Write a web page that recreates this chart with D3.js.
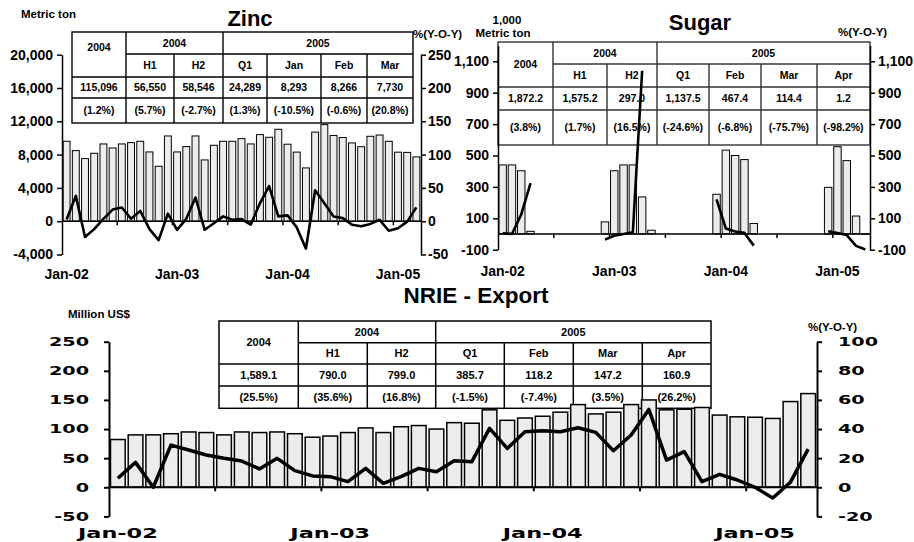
<!DOCTYPE html>
<html>
<head>
<meta charset="utf-8">
<script src="https://cdn.jsdelivr.net/npm/d3@7"></script>
<style>
  body { margin: 0; background: #fff; }
  svg { display: block; font-family: "Liberation Sans", Arial, sans-serif; font-weight: bold; }
</style>
</head>
<body>
<div id="chart"></div>
<script>
// Categories
const months = d3.timeMonth.range(new Date(2002, 0, 1), new Date(2005, 4, 1)).map(d3.timeFormat("%b-%y"))
const zincMonths = months.slice(0, 39)
const yearLabels = ["Jan-02", "Jan-03", "Jan-04", "Jan-05"]

// Series
const zincTons = [9600, 8480, 7520, 8160, 9280, 8800, 9280, 9440, 9600, 8320, 6600, 10240,
  8320, 8960, 10240, 7360, 9120, 9600, 9600, 9920, 9280, 10400, 10080, 11040,
  9250, 8300, 6400, 10700, 11600, 10300, 10050, 9400, 8950, 10200, 10350, 9596,
  8293, 8266, 7730]
const zincYoY = [2.6, 38, -23.7, -11.9, 3.6, 17.5, 20.6, 3.6, 15.5, -11.9, -28.4, 11.3,
  -12.9, 3.6, 35.6, -12.9, -3.1, 7.2, 2.1, 3.1, -5.2, 26.8, 52.6, 7.2,
  8.8, -9.3, -41.2, 46.4, 26.8, 7.2, 4.6, -5.2, -7.7, -4.1, 2.1, -14.4,
  -10.5, -0.6, 20.8]

const sugarTons = [440, 440, 403, 17, null, null, null, null, null, null, null, 77,
  403, 440, 440, 236, 24, null, null, null, null, null, null, 253,
  534, 500, 474, 67.2, null, null, null, null, null, null, null, 297,
  556, 467.4, 114.4, 1.2]
const sugarYoY = [5, 0, 125, 324, null, null, null, null, null, null, null, -36,
  -11, 0, 11, 1040, null, null, null, null, null, null, null, 221,
  35, 16, 7, -74, null, null, null, null, null, null, null, 17,
  6, -6.8, -75.7, -98.2]

const nrieExport = [82, 90, 90, 92, 95, 94, 90, 95, 94, 95, 92, 86,
  88, 94, 102, 94, 104, 106, 100, 111, 110, 133, 115, 119,
  122, 129, 142, 126, 129, 142, 150, 133, 134, 137, 124, 121,
  120.3, 118.2, 147.2, 160.9]
const nrieYoY = [6.2, 17.1, 0, 29, 25.6, 22.2, 19.9, 18, 12.6, 19.9, 11.4, 7.8,
  7.3, 3.9, 13, 2.7, 7.3, 13, 10.7, 18.3, 17.6, 40.5, 26.7, 38.2,
  38.9, 38.2, 40.9, 37.7, 25.1, 35.9, 53.5, 18.7, 24.5, 3.9, 8.9, 5,
  0, -7.4, 3.5, 26.2]

// Tables
const tableGroups = ["2004", "2004", "2005"]
const zincCols = ["H1", "H2", "Q1", "Jan", "Feb", "Mar"]
const zincVals = ["115,096", "56,550", "58,546", "24,289", "8,293", "8,266", "7,730"]
const zincPct = ["(1.2%)", "(5.7%)", "(-2.7%)", "(1.3%)", "(-10.5%)", "(-0.6%)", "(20.8%)"]
const sugarCols = ["H1", "H2", "Q1", "Feb", "Mar", "Apr"]
const sugarVals = ["1,872.2", "1,575.2", "297.0", "1,137.5", "467.4", "114.4", "1.2"]
const sugarPct = ["(3.8%)", "(1.7%)", "(16.5%)", "(-24.6%)", "(-6.8%)", "(-75.7%)", "(-98.2%)"]
const nrieCols = ["H1", "H2", "Q1", "Feb", "Mar", "Apr"]
const nrieVals = ["1,589.1", "790.0", "799.0", "385.7", "118.2", "147.2", "160.9"]
const nriePct = ["(25.5%)", "(35.6%)", "(16.8%)", "(-1.5%)", "(-7.4%)", "(3.5%)", "(26.2%)"]

// Axis ticks
const zincTicks = d3.range(-4000, 20001, 4000)
const zincPctTicks = d3.range(-50, 251, 50)
const sugarTicks = d3.range(-100, 1101, 200)
const nrieTicks = d3.range(-50, 251, 50)
const nriePctTicks = d3.range(-20, 101, 20)

// plain hyphen for negatives, like the original
const fmt = d => d3.format(",")(d).replace("\u2212", "-")

const svg = d3.select("#chart").append("svg")
    .attr("width", 914)
    .attr("height", 542)

function drawTable(g, t) {
  const tg = g.append("g").attr("font-size", t.fs).attr("text-anchor", "middle")
  const xs = t.xs, ys = t.ys
  tg.append("rect")
    .attr("x", xs[0]).attr("y", ys[0])
    .attr("width", xs[7] - xs[0]).attr("height", ys[4] - ys[0])
    .attr("fill", "#fff").attr("stroke", t.stroke).attr("stroke-width", t.sw)
  const seg = (x1, y1, x2, y2) => tg.append("line")
    .attr("x1", x1).attr("y1", y1).attr("x2", x2).attr("y2", y2)
    .attr("stroke", t.stroke).attr("stroke-width", t.sw)
  ;[1, 3].forEach(i => seg(xs[i], ys[0], xs[i], ys[4]))
  ;[2, 4, 5, 6].forEach(i => seg(xs[i], ys[1], xs[i], ys[4]))
  seg(xs[1], ys[1], xs[7], ys[1])
  seg(xs[0], ys[2], xs[7], ys[2])
  seg(xs[0], ys[3], xs[7], ys[3])

  const mid = (a, b) => (a + b) / 2
  const txt = (s, x, y) => tg.append("text").attr("x", x).attr("y", y).attr("dy", "0.35em").text(s)
  txt(tableGroups[0], mid(xs[0], xs[1]), t.cornerY != null ? t.cornerY : mid(ys[0], ys[2]))
  txt(tableGroups[1], mid(xs[1], xs[3]), mid(ys[0], ys[1]))
  txt(tableGroups[2], mid(xs[3], xs[7]), mid(ys[0], ys[1]))
  t.cols.forEach((c, i) => txt(c, mid(xs[i + 1], xs[i + 2]), mid(ys[1], ys[2])))
  t.vals.forEach((v, i) => txt(v, mid(xs[i], xs[i + 1]), mid(ys[2], ys[3])))
  t.pct.forEach((v, i) => txt(v, mid(xs[i], xs[i + 1]), mid(ys[3], ys[4])))
}

function panel(p) {
  const g = svg.append("g")
  const x = d3.scaleBand().domain(p.cats).range([p.x0, p.x1])
      .paddingInner(p.pad).paddingOuter(p.pad / 2)
  const y = d3.scaleLinear().domain(p.yDom).range([p.yBot, p.yTop])
  const y2 = d3.scaleLinear().domain(p.y2Dom).range([p.yBot, p.yTop])
  const s = p.stretch || 1

  drawTable(g, p.table)

  const rows = p.cats.map((c, i) => ({ c: c, v: p.bars[i], r: p.yoy[i] }))

  g.append("g").selectAll("rect")
    .data(rows.filter(d => d.v != null))
    .join("rect")
      .attr("x", d => x(d.c))
      .attr("width", x.bandwidth())
      .attr("y", d => y(Math.max(0, d.v)))
      .attr("height", d => Math.abs(y(d.v) - y(0)))
      .attr("fill", "#ececec")
      .attr("stroke", "#000")
      .attr("stroke-width", p.barStroke)

  // category axis on the zero line
  g.append("line")
    .attr("x1", p.x0).attr("x2", p.x1)
    .attr("y1", y(0)).attr("y2", y(0))
    .attr("stroke", "#000").attr("stroke-width", p.axisW)
  g.append("g").selectAll("line")
    .data(d3.range(6, p.cats.length, 6))
    .join("line")
      .attr("x1", k => p.x0 + k * x.step())
      .attr("x2", k => p.x0 + k * x.step())
      .attr("y1", y(0)).attr("y2", y(0) + 4)
      .attr("stroke", "#000").attr("stroke-width", p.axisW)

  const line = d3.line()
      .defined(d => d.r != null)
      .x(d => x(d.c) + x.bandwidth() / 2)
      .y(d => y2(d.r))
  g.append("path").datum(rows)
    .attr("d", line)
    .attr("fill", "none")
    .attr("stroke", "#000")
    .attr("stroke-width", p.lineW)
    .attr("stroke-linejoin", "round")

  // value axes
  const styleAxis = (ax, off) => {
    ax.attr("font-family", null).attr("font-size", p.fs)
    ax.selectAll(".domain, .tick line").attr("stroke", "#000").attr("stroke-width", p.axisW)
    if (s !== 1) {
      ax.selectAll("text").attr("x", null)
        .attr("transform", `translate(${off},0) scale(${s},1)`)
        .attr("font-family", p.font)
    }
  }
  const left = g.append("g").attr("transform", `translate(${p.x0},0)`)
    .call(d3.axisLeft(y).tickValues(p.yTicks).tickSize(5).tickSizeOuter(0)
      .tickPadding(p.padL).tickFormat(fmt))
  styleAxis(left, -(5 + p.padL))
  const right = g.append("g").attr("transform", `translate(${p.x1},0)`)
    .call(d3.axisRight(y2).tickValues(p.y2Ticks).tickSize(5).tickSizeOuter(0)
      .tickPadding(p.padR).tickFormat(fmt))
  styleAxis(right, 5 + p.padR)

  // year labels
  g.append("g").selectAll("text")
    .data(yearLabels)
    .join("text")
      .attr("text-anchor", "middle")
      .attr("font-size", p.xfs)
      .attr("font-family", s !== 1 ? p.font : null)
      .attr("transform", d => `translate(${x(d) + x.bandwidth() / 2},${p.xLabelY}) scale(${s},1)`)
      .text(d => d)

  p.labels.forEach(l => {
    g.append("text")
      .attr("x", l.x).attr("y", l.y)
      .attr("font-size", l.fs)
      .attr("text-anchor", l.anchor || "start")
      .text(l.text)
  })
}

panel({
  cats: zincMonths, bars: zincTons, yoy: zincYoY,
  x0: 62, x1: 421, yTop: 54.7, yBot: 254.5,
  yDom: [-4000, 20000], y2Dom: [-50, 250],
  yTicks: zincTicks, y2Ticks: zincPctTicks,
  pad: 0.25, barStroke: 1, lineW: 2.6, axisW: 1.5,
  fs: 14, xfs: 14, padL: 4, padR: 2, xLabelY: 279,
  table: { xs: [72, 126, 174, 223, 267, 321, 367, 413], ys: [32, 54, 77, 98, 123],
    cols: zincCols, vals: zincVals, pct: zincPct, fs: 10.5, sw: 1.4, stroke: "#000", cornerY: 47.5 },
  labels: [
    { text: "Zinc", x: 250, y: 26, fs: 22, anchor: "middle" },
    { text: "Metric ton", x: 21, y: 18, fs: 11.5 },
    { text: "%(Y-O-Y)", x: 413, y: 38, fs: 11.5 }
  ]
})

panel({
  cats: months, bars: sugarTons, yoy: sugarYoY,
  x0: 498, x1: 870, yTop: 45.6, yBot: 249.7,
  yDom: [-100, 1200], y2Dom: [-100, 1200],
  yTicks: sugarTicks, y2Ticks: sugarTicks,
  pad: 0.2, barStroke: 1, lineW: 2.6, axisW: 1.5,
  fs: 14, xfs: 14, padL: 4, padR: 3, xLabelY: 276,
  table: { xs: [498, 553, 607, 657, 709, 761, 817, 870], ys: [42, 64, 87, 110, 145],
    cols: sugarCols, vals: sugarVals, pct: sugarPct, fs: 10.5, sw: 1.4, stroke: "#333" },
  labels: [
    { text: "Sugar", x: 700, y: 30, fs: 22, anchor: "middle" },
    { text: "1,000", x: 507, y: 24, fs: 11.5, anchor: "middle" },
    { text: "Metric ton", x: 503, y: 37, fs: 11.5, anchor: "middle" },
    { text: "%(Y-O-Y)", x: 838, y: 36, fs: 11.5 }
  ]
})

panel({
  cats: months, bars: nrieExport, yoy: nrieYoY,
  x0: 109, x1: 817, yTop: 341.7, yBot: 516.4,
  yDom: [-50, 250], y2Dom: [-20, 100],
  yTicks: nrieTicks, y2Ticks: nriePctTicks,
  pad: 0.17, barStroke: 1.5, lineW: 3.5, axisW: 2,
  fs: 12, xfs: 14, padL: 15, padR: 16, xLabelY: 538,
  stretch: 1.6, font: "'DejaVu Sans', Verdana, sans-serif",
  table: { xs: [219, 298.3, 367.3, 435.7, 504.3, 573.3, 642.3, 711], ys: [321, 342.7, 364, 386, 408.3],
    cols: nrieCols, vals: nrieVals, pct: nriePct, fs: 11, sw: 1.5, stroke: "#000" },
  labels: [
    { text: "NRIE - Export", x: 476, y: 303, fs: 22.5, anchor: "middle" },
    { text: "Million US$", x: 68, y: 318, fs: 11.5 },
    { text: "%(Y-O-Y)", x: 808, y: 331, fs: 11.5 }
  ]
})
</script>
</body>
</html>
